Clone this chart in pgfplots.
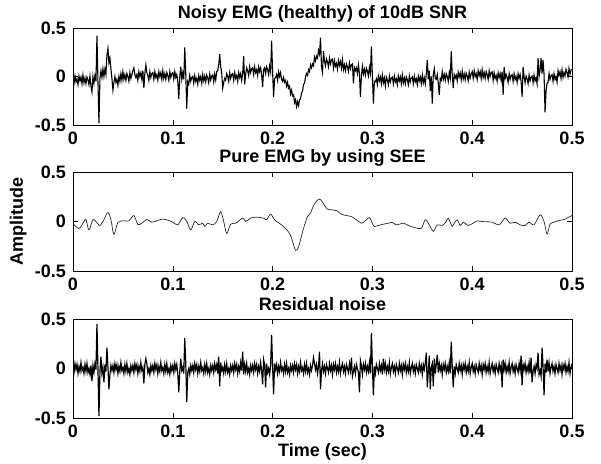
\documentclass[border=0pt]{standalone}
\usepackage{fontspec}
\setmainfont{Liberation Sans}
\usepackage{pgfplots}
\pgfplotsset{compat=1.18}
\usepackage{pgfplotstable}

% noisy EMG (top panel), one sample per ms
\pgfplotstableread{
t v
0.000 -0.005
0.001 -0.075
0.002 0.005
0.003 -0.055
0.004 -0.025
0.005 -0.085
0.006 0.005
0.007 -0.045
0.008 -0.005
0.009 -0.075
0.010 0.015
0.011 -0.065
0.012 -0.015
0.013 -0.075
0.014 -0.005
0.015 -0.035
0.016 -0.085
0.017 0.005
0.018 -0.10
0.019 -0.16
0.020 0.00
0.021 -0.07
0.022 0.01
0.023 -0.05
0.024 0.42
0.025 -0.05
0.026 -0.48
0.027 -0.02
0.028 0.06
0.029 -0.01
0.030 0.08
0.031 0.00
0.032 0.08
0.033 0.02
0.034 0.22
0.035 0.29
0.036 0.14
0.037 0.19
0.038 0.08
0.039 -0.02
0.040 -0.14
0.041 -0.06
0.042 0.00
0.043 -0.06
0.044 -0.03
0.045 -0.09
0.046 0.00
0.047 -0.05
0.048 0.03
0.049 -0.04
0.050 0.05
0.051 -0.03
0.052 0.02
0.053 -0.04
0.054 0.03
0.055 0.00
0.056 -0.05
0.057 0.04
0.058 -0.02
0.059 0.02
0.060 0.06
0.061 0.09
0.062 0.02
0.063 -0.01
0.064 0.02
0.065 -0.04
0.066 0.05
0.067 0.00
0.068 0.04
0.069 -0.03
0.070 0.06
0.071 -0.12
0.072 0.03
0.073 0.12
0.074 0.04
0.075 0.01
0.076 -0.04
0.077 0.05
0.078 -0.01
0.079 0.03
0.080 0.04
0.081 -0.03
0.082 0.05
0.083 -0.01
0.084 0.02
0.085 -0.04
0.086 0.05
0.087 0.00
0.088 0.04
0.089 -0.03
0.090 0.06
0.091 -0.02
0.092 0.03
0.093 -0.03
0.094 0.04
0.095 0.01
0.096 -0.04
0.097 0.05
0.098 -0.01
0.099 0.03
0.100 0.04
0.101 -0.03
0.102 0.05
0.103 -0.01
0.104 0.02
0.105 -0.05
0.106 -0.23
0.107 0.00
0.108 0.10
0.109 -0.03
0.110 0.04
0.111 -0.03
0.112 0.30
0.113 0.02
0.114 -0.33
0.115 -0.05
0.116 -0.08
0.117 0.01
0.118 -0.05
0.119 -0.01
0.120 0.00
0.121 -0.07
0.122 0.01
0.123 -0.05
0.124 -0.02
0.125 -0.08
0.126 0.01
0.127 -0.04
0.128 0.00
0.129 -0.07
0.130 0.02
0.131 -0.045
0.132 0.005
0.133 -0.055
0.134 0.015
0.135 -0.015
0.136 -0.065
0.137 0.025
0.138 -0.035
0.139 0.005
0.140 0.015
0.141 -0.055
0.142 0.025
0.143 -0.035
0.144 0.05
0.145 0.06
0.146 0.12
0.147 0.23
0.148 0.10
0.149 0.04
0.150 -0.12
0.151 -0.06
0.152 -0.02
0.153 -0.04
0.154 0.03
0.155 0.00
0.156 -0.05
0.157 0.04
0.158 -0.02
0.159 0.02
0.160 0.03
0.161 -0.04
0.162 0.04
0.163 -0.02
0.164 0.01
0.165 -0.05
0.166 0.04
0.167 -0.01
0.168 0.03
0.169 -0.04
0.170 0.03
0.171 0.21
0.172 -0.08
0.173 0.02
0.174 0.09
0.175 0.06
0.176 0.01
0.177 0.10
0.178 0.04
0.179 0.08
0.180 0.09
0.181 0.02
0.182 0.10
0.183 0.04
0.184 0.07
0.185 0.01
0.186 0.10
0.187 0.05
0.188 0.09
0.189 0.02
0.190 -0.11
0.191 0.07
0.192 0.09
0.193 0.03
0.194 0.10
0.195 0.07
0.196 0.02
0.197 0.11
0.198 0.05
0.199 0.37
0.200 0.05
0.201 -0.21
0.202 -0.02
0.203 -0.01
0.204 0.02
0.205 -0.04
0.206 0.05
0.207 0.00
0.208 0.04
0.209 -0.03
0.210 -0.05
0.211 -0.01
0.212 -0.06
0.213 -0.04
0.214 -0.10
0.215 -0.06
0.216 -0.12
0.217 -0.10
0.218 -0.18
0.219 -0.14
0.220 -0.20
0.221 -0.19
0.222 -0.27
0.223 -0.24
0.224 -0.31
0.225 -0.26
0.226 -0.30
0.227 -0.24
0.228 -0.23
0.229 -0.17
0.230 -0.15
0.231 -0.08
0.232 -0.07
0.233 0.00
0.234 0.03
0.235 0.01
0.236 0.07
0.237 0.05
0.238 0.12
0.239 0.09
0.240 0.13
0.241 0.11
0.242 0.20
0.243 0.16
0.244 0.21
0.245 0.19
0.246 0.27
0.247 0.23
0.248 0.40
0.249 0.10
0.250 0.04
0.251 0.26
0.252 0.16
0.253 0.11
0.254 0.18
0.255 0.15
0.256 0.10
0.257 0.19
0.258 0.13
0.259 0.17
0.260 0.18
0.261 0.085
0.262 0.165
0.263 0.105
0.264 0.135
0.265 0.075
0.266 0.165
0.267 0.115
0.268 0.155
0.269 0.085
0.270 0.175
0.271 0.07
0.272 0.12
0.273 0.06
0.274 0.13
0.275 0.10
0.276 0.05
0.277 0.14
0.278 0.08
0.279 0.12
0.280 0.13
0.281 -0.07
0.282 0.09
0.283 0.06
0.284 0.09
0.285 0.03
0.286 0.12
0.287 0.03
0.288 -0.21
0.289 0.01
0.290 0.105
0.291 0.025
0.292 0.075
0.293 0.015
0.294 0.085
0.295 0.055
0.296 0.005
0.297 0.095
0.298 0.035
0.299 0.31
0.300 0.00
0.301 -0.28
0.302 -0.05
0.303 -0.055
0.304 -0.025
0.305 -0.085
0.306 0.005
0.307 -0.045
0.308 -0.005
0.309 -0.075
0.310 0.015
0.311 -0.065
0.312 -0.015
0.313 -0.10
0.314 -0.005
0.315 -0.035
0.316 -0.085
0.317 0.005
0.318 -0.055
0.319 -0.015
0.320 -0.005
0.321 -0.075
0.322 0.005
0.323 -0.055
0.324 -0.025
0.325 -0.085
0.326 0.005
0.327 -0.045
0.328 -0.005
0.329 -0.075
0.330 0.015
0.331 -0.065
0.332 -0.015
0.333 -0.075
0.334 -0.005
0.335 -0.035
0.336 -0.085
0.337 0.005
0.338 -0.055
0.339 -0.015
0.340 -0.005
0.341 -0.075
0.342 0.005
0.343 -0.055
0.344 -0.025
0.345 -0.085
0.346 0.005
0.347 -0.045
0.348 -0.005
0.349 -0.075
0.350 0.015
0.351 -0.065
0.352 -0.015
0.353 -0.075
0.354 0.03
0.355 0.17
0.356 -0.03
0.357 0.06
0.358 -0.15
0.359 0.00
0.360 -0.28
0.361 0.02
0.362 0.08
0.363 -0.02
0.364 -0.03
0.365 0.02
0.366 -0.07
0.367 -0.19
0.368 -0.02
0.369 -0.04
0.370 0.05
0.371 -0.03
0.372 0.02
0.373 -0.04
0.374 0.03
0.375 0.00
0.376 -0.05
0.377 0.04
0.378 -0.02
0.379 0.26
0.380 0.02
0.381 -0.12
0.382 0.02
0.383 -0.015
0.384 0.015
0.385 -0.045
0.386 0.045
0.387 -0.005
0.388 0.035
0.389 -0.035
0.390 0.055
0.391 -0.025
0.392 0.025
0.393 -0.035
0.394 0.035
0.395 0.005
0.396 -0.045
0.397 0.045
0.398 -0.015
0.399 0.025
0.400 0.05
0.401 -0.02
0.402 0.06
0.403 0.00
0.404 0.03
0.405 -0.03
0.406 0.06
0.407 0.01
0.408 0.05
0.409 -0.02
0.410 0.07
0.411 -0.01
0.412 0.04
0.413 -0.02
0.414 0.05
0.415 0.02
0.416 -0.03
0.417 0.06
0.418 0.00
0.419 0.04
0.420 0.05
0.421 -0.04
0.422 0.04
0.423 -0.02
0.424 0.01
0.425 -0.05
0.426 0.04
0.427 -0.01
0.428 0.03
0.429 -0.04
0.430 0.05
0.431 -0.19
0.432 0.10
0.433 -0.02
0.434 0.02
0.435 -0.01
0.436 -0.06
0.437 0.03
0.438 -0.03
0.439 0.01
0.440 0.02
0.441 -0.05
0.442 0.03
0.443 -0.03
0.444 0.00
0.445 -0.06
0.446 0.03
0.447 -0.02
0.448 0.02
0.449 -0.05
0.450 -0.21
0.451 0.10
0.452 -0.005
0.453 -0.065
0.454 0.005
0.455 -0.025
0.456 -0.075
0.457 0.015
0.458 -0.045
0.459 -0.005
0.460 0.005
0.461 -0.065
0.462 0.015
0.463 -0.045
0.464 -0.015
0.465 -0.075
0.466 0.19
0.467 0.00
0.468 0.06
0.469 0.19
0.470 0.03
0.471 0.17
0.472 0.02
0.473 -0.37
0.474 -0.15
0.475 -0.07
0.476 -0.06
0.477 0.03
0.478 -0.03
0.479 0.01
0.480 0.02
0.481 -0.05
0.482 0.03
0.483 -0.03
0.484 0.00
0.485 -0.06
0.486 0.06
0.487 0.01
0.488 0.05
0.489 -0.02
0.490 0.07
0.491 -0.01
0.492 0.04
0.493 0.005
0.494 0.075
0.495 0.045
0.496 -0.005
0.497 0.085
0.498 0.025
0.499 0.065
0.500 0.075
}\noisyemg

% pure EMG estimated by SEE (middle panel)
\pgfplotstableread{
t v
0.000 -0.02
0.006 -0.07
0.011 0.00
0.013 0.02
0.016 -0.085
0.020 0.02
0.023 0.00
0.027 -0.04
0.031 0.02
0.035 0.09
0.038 0.02
0.041 -0.13
0.045 -0.01
0.051 0.007
0.056 0.007
0.061 0.06
0.065 -0.03
0.069 -0.017
0.074 0.02
0.079 -0.007
0.084 0.007
0.089 0.024
0.094 0.017
0.100 -0.007
0.105 -0.034
0.110 0.04
0.114 0.00
0.118 -0.085
0.122 0.00
0.126 -0.034
0.130 -0.017
0.132 -0.05
0.135 -0.017
0.140 -0.034
0.144 0.00
0.148 0.10
0.151 0.00
0.154 -0.12
0.158 -0.027
0.163 -0.017
0.170 0.034
0.173 0.00
0.178 0.034
0.184 0.044
0.191 0.034
0.194 0.017
0.198 0.074
0.202 0.017
0.207 -0.02
0.211 -0.05
0.217 -0.12
0.220 -0.20
0.223 -0.29
0.226 -0.255
0.231 -0.07
0.235 0.05
0.238 0.085
0.2415 0.17
0.2465 0.226
0.2497 0.20
0.2545 0.128
0.2594 0.118
0.264 0.11
0.269 0.074
0.274 0.06
0.279 0.05
0.284 0.017
0.289 -0.017
0.292 0.00
0.297 0.04
0.300 -0.017
0.302 -0.05
0.308 -0.034
0.316 -0.017
0.320 -0.01
0.324 -0.034
0.331 -0.017
0.336 -0.04
0.342 -0.06
0.349 -0.068
0.353 0.017
0.357 -0.034
0.361 -0.10
0.365 -0.034
0.370 -0.04
0.374 0.00
0.376 0.034
0.380 -0.05
0.382 -0.017
0.385 0.017
0.388 -0.04
0.391 -0.007
0.396 -0.04
0.401 -0.017
0.405 0.007
0.410 0.00
0.420 -0.007
0.427 -0.034
0.433 0.034
0.438 -0.017
0.443 -0.007
0.448 -0.034
0.453 -0.04
0.457 -0.007
0.462 -0.034
0.468 0.068
0.472 0.00
0.475 -0.128
0.478 -0.027
0.482 -0.007
0.487 0.01
0.492 0.02
0.496 0.04
0.500 0.06
}\pureemg

% residual noise (bottom panel), one sample per ms
\pgfplotstableread{
t v
0.000 0.03
0.001 -0.04
0.002 0.05
0.003 -0.01
0.004 0.04
0.005 -0.05
0.006 0.02
0.007 -0.03
0.008 0.06
0.009 -0.02
0.010 0.01
0.011 -0.05
0.012 0.04
0.013 -0.03
0.014 0.05
0.015 -0.04
0.016 0.00
0.017 -0.06
0.018 0.03
0.019 -0.13
0.020 0.03
0.021 -0.04
0.022 0.05
0.023 -0.01
0.024 0.45
0.025 0.00
0.026 -0.48
0.027 -0.03
0.028 0.12
0.029 -0.05
0.030 0.01
0.031 -0.14
0.032 0.04
0.033 -0.03
0.034 0.21
0.035 0.02
0.036 -0.21
0.037 -0.06
0.038 0.03
0.039 -0.02
0.040 0.03
0.041 -0.04
0.042 0.05
0.043 -0.01
0.044 0.04
0.045 -0.05
0.046 0.02
0.047 -0.03
0.048 0.06
0.049 -0.02
0.050 0.01
0.051 -0.05
0.052 0.04
0.053 -0.03
0.054 0.05
0.055 -0.04
0.056 0.00
0.057 -0.06
0.058 0.03
0.059 -0.02
0.060 0.03
0.061 -0.04
0.062 0.05
0.063 -0.01
0.064 0.04
0.065 -0.05
0.066 0.02
0.067 -0.03
0.068 0.06
0.069 -0.02
0.070 0.01
0.071 -0.15
0.072 0.04
0.073 0.10
0.074 0.05
0.075 -0.04
0.076 0.00
0.077 -0.06
0.078 0.03
0.079 -0.02
0.080 0.03
0.081 -0.04
0.082 0.05
0.083 -0.01
0.084 0.04
0.085 -0.05
0.086 0.02
0.087 -0.03
0.088 0.06
0.089 -0.02
0.090 0.01
0.091 -0.05
0.092 0.04
0.093 -0.03
0.094 0.05
0.095 -0.04
0.096 0.00
0.097 -0.06
0.098 0.03
0.099 -0.02
0.100 0.03
0.101 -0.04
0.102 0.05
0.103 -0.01
0.104 0.04
0.105 -0.05
0.106 -0.24
0.107 -0.03
0.108 0.10
0.109 -0.02
0.110 0.01
0.111 -0.05
0.112 0.31
0.113 0.04
0.114 -0.34
0.115 -0.04
0.116 0.00
0.117 -0.06
0.118 0.03
0.119 -0.02
0.120 0.03
0.121 -0.04
0.122 0.05
0.123 -0.01
0.124 0.04
0.125 -0.05
0.126 0.02
0.127 -0.03
0.128 0.06
0.129 -0.02
0.130 0.01
0.131 -0.05
0.132 0.04
0.133 -0.03
0.134 0.05
0.135 -0.04
0.136 0.00
0.137 -0.06
0.138 0.03
0.139 -0.02
0.140 0.03
0.141 -0.04
0.142 0.05
0.143 -0.01
0.144 0.04
0.145 -0.05
0.146 0.12
0.147 -0.18
0.148 0.06
0.149 -0.02
0.150 0.01
0.151 -0.05
0.152 0.04
0.153 -0.03
0.154 0.05
0.155 -0.04
0.156 0.00
0.157 -0.06
0.158 0.03
0.159 -0.02
0.160 0.03
0.161 -0.04
0.162 0.05
0.163 -0.01
0.164 0.04
0.165 -0.05
0.166 0.02
0.167 -0.03
0.168 0.06
0.169 -0.02
0.170 0.17
0.171 -0.06
0.172 0.04
0.173 -0.03
0.174 0.05
0.175 -0.04
0.176 0.00
0.177 -0.06
0.178 0.03
0.179 -0.02
0.180 0.03
0.181 -0.04
0.182 0.05
0.183 -0.01
0.184 0.04
0.185 -0.05
0.186 0.02
0.187 -0.03
0.188 0.06
0.189 -0.02
0.190 -0.16
0.191 0.09
0.192 0.04
0.193 -0.19
0.194 0.05
0.195 -0.04
0.196 0.00
0.197 -0.06
0.198 0.03
0.199 0.34
0.200 0.02
0.201 -0.26
0.202 0.05
0.203 -0.01
0.204 0.04
0.205 -0.05
0.206 0.02
0.207 -0.03
0.208 0.06
0.209 -0.02
0.210 0.01
0.211 -0.05
0.212 0.04
0.213 -0.03
0.214 0.05
0.215 -0.04
0.216 0.00
0.217 -0.06
0.218 0.03
0.219 -0.02
0.220 0.03
0.221 -0.04
0.222 0.05
0.223 -0.01
0.224 0.04
0.225 -0.05
0.226 0.02
0.227 -0.03
0.228 0.06
0.229 -0.02
0.230 0.01
0.231 -0.05
0.232 0.04
0.233 -0.03
0.234 0.05
0.235 -0.04
0.236 0.00
0.237 -0.06
0.238 0.03
0.239 -0.02
0.240 0.03
0.241 0.11
0.242 0.05
0.243 -0.01
0.244 0.04
0.245 -0.05
0.246 0.02
0.247 0.17
0.248 -0.21
0.249 -0.02
0.250 0.05
0.251 -0.03
0.252 0.02
0.253 -0.05
0.254 0.04
0.255 0.00
0.256 -0.04
0.257 0.05
0.258 -0.02
0.259 0.03
0.260 -0.06
0.261 0.04
0.262 -0.01
0.263 0.05
0.264 -0.04
0.265 0.02
0.266 -0.03
0.267 0.06
0.268 -0.05
0.269 0.01
0.270 0.05
0.271 -0.03
0.272 0.02
0.273 -0.05
0.274 0.04
0.275 0.00
0.276 -0.04
0.277 0.05
0.278 -0.02
0.279 0.11
0.280 -0.08
0.281 -0.03
0.282 0.02
0.283 -0.05
0.284 0.04
0.285 0.00
0.286 -0.04
0.287 -0.24
0.288 0.08
0.289 0.03
0.290 -0.06
0.291 0.04
0.292 -0.01
0.293 0.05
0.294 -0.04
0.295 0.02
0.296 -0.03
0.297 0.06
0.298 -0.05
0.299 0.36
0.300 0.02
0.301 -0.27
0.302 0.02
0.303 -0.05
0.304 0.04
0.305 0.00
0.306 -0.04
0.307 0.05
0.308 -0.02
0.309 0.03
0.310 -0.06
0.311 0.10
0.312 -0.01
0.313 0.05
0.314 -0.04
0.315 0.02
0.316 -0.03
0.317 0.06
0.318 -0.05
0.319 0.01
0.320 0.05
0.321 -0.03
0.322 0.02
0.323 -0.05
0.324 0.04
0.325 0.00
0.326 -0.04
0.327 0.05
0.328 -0.02
0.329 0.03
0.330 -0.06
0.331 0.04
0.332 -0.01
0.333 0.05
0.334 -0.04
0.335 0.02
0.336 -0.03
0.337 0.06
0.338 -0.05
0.339 0.01
0.340 0.05
0.341 -0.03
0.342 0.02
0.343 -0.05
0.344 0.04
0.345 0.00
0.346 -0.04
0.347 0.05
0.348 -0.02
0.349 0.03
0.350 -0.06
0.351 0.04
0.352 -0.01
0.353 0.05
0.354 0.16
0.355 -0.19
0.356 -0.03
0.357 0.13
0.358 -0.21
0.359 0.01
0.360 0.05
0.361 -0.18
0.362 0.10
0.363 -0.05
0.364 0.04
0.365 0.14
0.366 -0.04
0.367 0.05
0.368 -0.02
0.369 0.03
0.370 -0.06
0.371 0.04
0.372 -0.01
0.373 0.05
0.374 -0.04
0.375 0.02
0.376 -0.03
0.377 0.06
0.378 -0.05
0.379 0.27
0.380 0.02
0.381 -0.19
0.382 0.02
0.383 -0.05
0.384 0.04
0.385 0.00
0.386 -0.04
0.387 0.05
0.388 -0.02
0.389 0.03
0.390 -0.06
0.391 0.04
0.392 -0.01
0.393 0.05
0.394 -0.04
0.395 0.02
0.396 -0.03
0.397 0.06
0.398 -0.05
0.399 0.01
0.400 0.05
0.401 -0.03
0.402 0.02
0.403 -0.05
0.404 0.04
0.405 0.00
0.406 -0.04
0.407 0.05
0.408 -0.02
0.409 0.03
0.410 -0.06
0.411 0.04
0.412 -0.01
0.413 0.05
0.414 -0.04
0.415 0.02
0.416 -0.03
0.417 0.06
0.418 -0.05
0.419 0.01
0.420 0.05
0.421 -0.03
0.422 0.02
0.423 -0.05
0.424 0.04
0.425 0.00
0.426 -0.04
0.427 0.05
0.428 -0.02
0.429 0.03
0.430 -0.19
0.431 0.09
0.432 -0.01
0.433 0.05
0.434 -0.04
0.435 0.02
0.436 -0.03
0.437 0.06
0.438 -0.05
0.439 0.01
0.440 0.05
0.441 -0.03
0.442 0.02
0.443 -0.05
0.444 0.04
0.445 0.00
0.446 -0.04
0.447 0.05
0.448 -0.02
0.449 0.13
0.450 -0.17
0.451 0.04
0.452 -0.01
0.453 0.05
0.454 -0.04
0.455 0.02
0.456 -0.03
0.457 0.06
0.458 -0.05
0.459 0.11
0.460 -0.14
0.461 -0.03
0.462 0.02
0.463 -0.05
0.464 0.04
0.465 0.00
0.466 0.16
0.467 -0.06
0.468 -0.02
0.469 -0.08
0.470 0.21
0.471 0.02
0.472 -0.27
0.473 0.05
0.474 -0.04
0.475 0.09
0.476 -0.03
0.477 0.06
0.478 -0.05
0.479 0.01
0.480 0.05
0.481 -0.03
0.482 0.02
0.483 -0.05
0.484 0.04
0.485 0.00
0.486 -0.04
0.487 0.05
0.488 -0.02
0.489 0.03
0.490 -0.06
0.491 0.04
0.492 -0.01
0.493 0.05
0.494 -0.04
0.495 0.02
0.496 -0.03
0.497 0.06
0.498 -0.05
0.499 0.01
0.500 0.05
}\residual

\pgfplotsset{
  emgpanel/.style={
    scale only axis, width=499pt,
    xmin=0, xmax=0.5, ymin=-0.5, ymax=0.5,
    xtick={0,0.1,0.2,0.3,0.4,0.5},
    xticklabels={0,0.1,0.2,0.3,0.4,0.5},
    ytick={-0.5,0,0.5},
    yticklabels={-0.5,0,0.5},
    minor tick num=0,
    tick align=inside,
    major tick length=5pt,
    tick style={black, line width=0.6pt},
    axis line style={black, line width=0.8pt},
    ticklabel style={font=\fontsize{18}{21}\selectfont\bfseries},
    xticklabel style={anchor=base, inner sep=0pt, yshift=-19.5pt},
    yticklabel style={anchor=east, inner sep=0pt, xshift=-7pt},
    every axis title/.style={at={(0.5,1)}, anchor=base, inner sep=0pt,
      yshift=9pt, font=\fontsize{18}{21}\selectfont\bfseries},
    label style={font=\fontsize{18}{21}\selectfont\bfseries},
    anchor=south west,
  },
}

\begin{document}
\begin{tikzpicture}
\path[use as bounding box] (0,0) rectangle (601pt,463pt);

\begin{axis}[emgpanel, at={(73pt,338pt)}, height=97pt,
  title={Noisy EMG (healthy) of 10dB SNR}]
  \addplot[black, line width=1.1pt] table[x=t, y=v] {\noisyemg};
\end{axis}

\begin{axis}[emgpanel, at={(73pt,192pt)}, height=99pt,
  title={Pure EMG by using SEE},
  ylabel={Amplitude},
  ylabel style={at={(axis description cs:-0.1002,0.5)}, anchor=base, inner sep=0pt}]
  \addplot[black!85, line width=0.7pt, smooth, tension=0.5] table[x=t, y=v] {\pureemg};
\end{axis}

\begin{axis}[emgpanel, at={(73pt,45pt)}, height=99pt,
  title={Residual noise},
  xlabel={Time (sec)},
  xlabel style={at={(axis description cs:0.5,0)}, anchor=base, inner sep=0pt, yshift=-38pt}]
  \addplot[black, line width=1.2pt] table[x=t, y=v] {\residual};
\end{axis}
\end{tikzpicture}
\end{document}
